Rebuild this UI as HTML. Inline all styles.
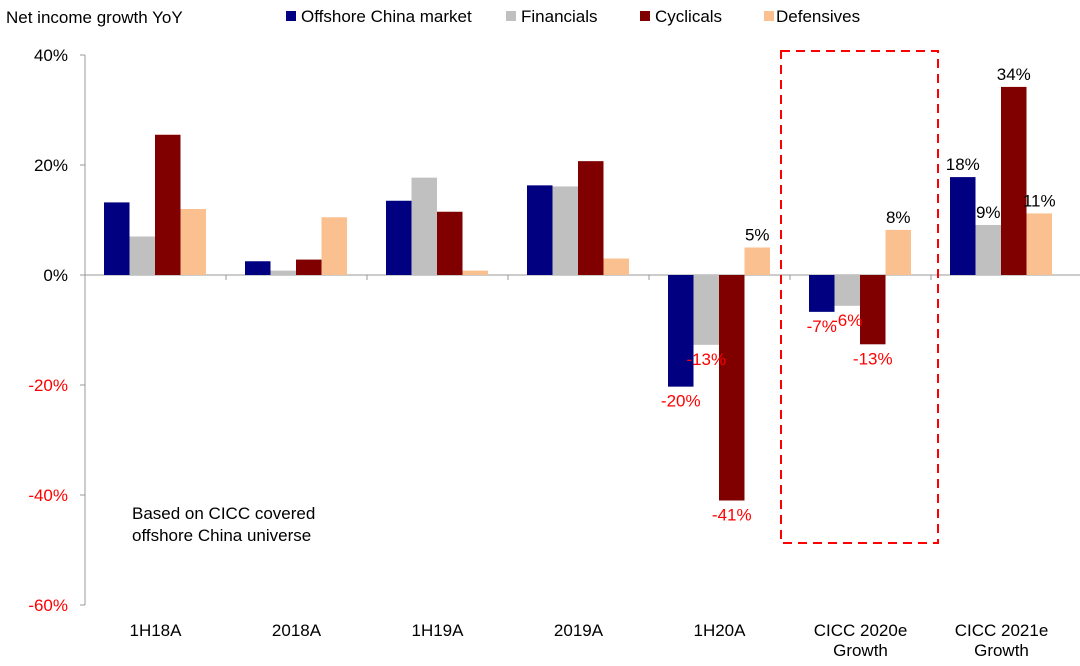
<!DOCTYPE html>
<html><head><meta charset="utf-8"><style>
body{margin:0;background:#fff;width:1080px;height:661px;overflow:hidden;font-family:"Liberation Sans",sans-serif}
svg text{font-family:"Liberation Sans",sans-serif}
</style></head><body>
<svg id="chart" width="1080" height="661">
<text x="6" y="23" font-size="17" fill="#000">Net income growth YoY</text>
<g id="legend"></g>
<g id="axes"></g>
<g id="bars"></g>
<g id="labels"></g>
<rect x="781" y="51" width="157" height="492" fill="none" stroke="#f00" stroke-width="2" stroke-dasharray="9,6"/>
<text x="132" y="519" font-size="17">Based on CICC covered</text>
<text x="132" y="541" font-size="17">offshore China universe</text>
</svg>
<script>
const categories=["1H18A","2018A","1H19A","2019A","1H20A","CICC 2020e|Growth","CICC 2021e|Growth"];
const seriesNames=["Offshore China market","Financials","Cyclicals","Defensives"];
const offshore=[13.2,2.5,13.5,16.3,-20.3,-6.7,17.8];
const financials=[7,0.8,17.7,16.1,-12.7,-5.6,9.1];
const cyclicals=[25.5,2.8,11.5,20.7,-41,-12.6,34.2];
const defensives=[12,10.5,0.8,3,5,8.2,11.2];
const yTicks=[40,20,0,-20,-40,-60];
const labeledGroups=[4,5,6];
const colors=["#000080","#c0c0c0","#800000","#fac090"];
const NS="http://www.w3.org/2000/svg";
const x0=85,cw=141,y0=275,pxPer=5.5;
const y=v=>y0-v*pxPer;
function mk(t,a,p){const e=document.createElementNS(NS,t);for(const k in a)e.setAttribute(k,a[k]);p.appendChild(e);return e;}
const axes=document.getElementById('axes');
let a=mk('line',{x1:x0,y1:y(40),x2:x0,y2:y(-60),stroke:'#999'},axes);


a=mk('line',{x1:x0,y1:y0,x2:1080,y2:y0,stroke:'#999'},axes);


yTicks.forEach(t=>{mk('line',{x1:x0-5,y1:y(t),x2:x0,y2:y(t),stroke:'#999'},axes);
const tx=mk('text',{x:x0-17,y:y(t)+6,'text-anchor':'end','font-size':17,fill:t<0?'#f00':'#000'},axes);tx.textContent=t+'%';

});
for(let i=1;i<categories.length;i++)mk('line',{x1:x0+i*cw,y1:y0,x2:x0+i*cw,y2:y0+5,stroke:'#999'},axes);
const data=[offshore,financials,cyclicals,defensives];
const bars=document.getElementById('bars'),labels=document.getElementById('labels');
const bw=25.5,off=19;
categories.forEach((c,i)=>{
 c.split('|').forEach((ln,k)=>{const t=mk('text',{x:x0+i*cw+cw/2,y:636+k*20,'text-anchor':'middle','font-size':17},axes);t.textContent=ln;
 
 });
 data.forEach((s,j)=>{const v=s[i];const bx=x0+i*cw+off+j*bw;
  const r=mk('rect',{x:bx,y:Math.min(y(v),y0),width:bw,height:Math.abs(v)*pxPer,fill:colors[j]},bars);
  
  
  if(labeledGroups.includes(i)){
   const neg=v<0;const t=mk('text',{x:bx+bw/2,y:neg?y(v)+20:y(v)-7,'text-anchor':'middle','font-size':17,fill:neg?'#f00':'#000'},labels);
   t.textContent=Math.round(v)+'%';
   
   }
 });
});
const lg=document.getElementById('legend');const lx=[286,506,640,764];
seriesNames.forEach((n,j)=>{mk('rect',{x:lx[j],y:11,width:10,height:10,fill:colors[j]},lg);
const t=mk('text',{x:lx[j]+(j==3?12:15),y:22,'font-size':17},lg);t.textContent=n;

});
</script>
</body></html>
